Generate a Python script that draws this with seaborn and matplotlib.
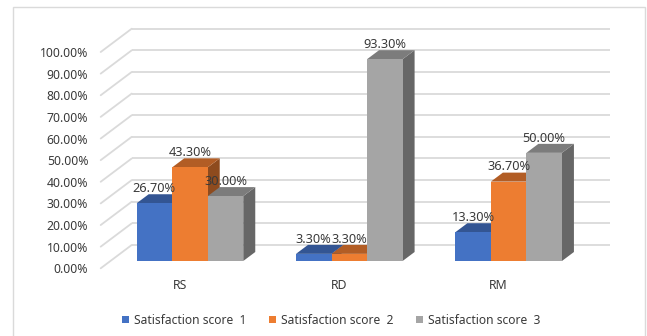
import matplotlib
matplotlib.use("Agg")
import matplotlib.pyplot as plt
import pandas as pd
import seaborn as sns
from matplotlib.patches import Polygon, Rectangle
from matplotlib.transforms import Affine2D, IdentityTransform

# Chart values (percent)
groups = ["RS", "RD", "RM"]
series_names = ["Satisfaction score  1", "Satisfaction score  2", "Satisfaction score  3"]
score_1 = [26.7, 3.3, 13.3]
score_2 = [43.3, 3.3, 36.7]
score_3 = [30.0, 93.3, 50.0]
axis_ticks = list(range(0, 101, 10))

# Face colours of each series: front, top, right side
front_colors = ["#4472C4", "#ED7D31", "#A5A5A5"]
top_colors = ["#335593", "#B25D25", "#7C7C7C"]
side_colors = ["#2A4778", "#8E4B1E", "#676767"]
text_color = "#3A3A3A"
grid_color = "#DADADA"
font_family = "Noto Sans"

W, H, DPI = 647, 336, 100
BAR_DEPTH = (12, 9)          # px, oblique offset of a bar's back face
WALL_FRONT = (-9.6, -7.3)    # px, front edge of the floor relative to the bar plane
WALL_BACK = (21.4, 16.0)     # px, back edge of the floor relative to the bar plane

sns.set_theme(style="white")
plt.rcParams["font.family"] = [font_family, "DejaVu Sans"]

fig = plt.figure(figsize=(W / DPI, H / DPI), dpi=DPI, facecolor="white")
ax = fig.add_axes([110.3 / W, (H - 261) / H, 478 / W, 216.3 / H])

table = pd.DataFrame({
    "group": groups * 3,
    "series": [n for n in series_names for _ in groups],
    "value": score_1 + score_2 + score_3,
})
sns.barplot(data=table, x="group", y="value", hue="series", palette=front_colors,
            saturation=1, width=0.669, gap=0, dodge=True, ax=ax, linewidth=0)

ax.set_xlim(-0.5, 2.5)
ax.set_ylim(0, 100)
ax.set_xlabel("")
ax.set_ylabel("")
sns.despine(ax=ax, left=True, bottom=True)
ax.patch.set_alpha(0)

# Outer frame of the chart area, open past the lower image edge
fig.add_artist(Rectangle((12.7, -6), 632.3, H - 7.3 + 6, transform=IdentityTransform(),
                         fill=False, edgecolor="#DADADA", linewidth=1.0))


def shifted(offset):
    return ax.transData + Affine2D().translate(*offset)


# Back wall and side wall gridlines
for v in axis_ticks:
    ax.plot([-0.5, 2.5], [v, v], transform=shifted(WALL_BACK), color=grid_color,
            lw=1.3, clip_on=False, zorder=1, solid_capstyle="butt")
    x0, y0 = ax.transData.transform((-0.5, v))
    ax.plot([x0 + WALL_FRONT[0], x0 + WALL_BACK[0]], [y0 + WALL_FRONT[1], y0 + WALL_BACK[1]],
            transform=IdentityTransform(), color=grid_color, lw=1.3, clip_on=False, zorder=1)

# Top and side faces, plus a value label over each bar
dx, dy = BAR_DEPTH
for i, container in enumerate(ax.containers[:3]):
    for bar in container:
        bar.set_zorder(3.5 + i)
        x_left = bar.get_x()
        x_right = x_left + bar.get_width()
        value = bar.get_height()
        (x0, y0), (x1, y1) = ax.transData.transform([(x_left, 0), (x_right, value)])
        ax.add_patch(Polygon([(x1, y0), (x1 + dx, y0 + dy), (x1 + dx, y1 + dy), (x1, y1)],
                             transform=IdentityTransform(), facecolor=side_colors[i],
                             edgecolor="none", clip_on=False, zorder=3 + i))
        ax.add_patch(Polygon([(x0, y1), (x1, y1), (x1 + dx, y1 + dy), (x0 + dx, y1 + dy)],
                             transform=IdentityTransform(), facecolor=top_colors[i],
                             edgecolor="none", clip_on=False, zorder=3 + i))
        ax.annotate(f"{value:.2f}%", xy=((x_left + x_right) / 2, value), xytext=(0, 14.7 * 72 / DPI),
                    textcoords="offset points", ha="center", va="center", fontsize=9.2,
                    color=text_color, zorder=20, annotation_clip=False)

# Axis labels sit on the front edge of the floor, not on the bar plane
ax.set_yticks(axis_ticks, [f"{t:.2f}%" for t in axis_ticks])
ax.tick_params(axis="y", length=0, pad=22 * 72 / DPI, labelsize=8.8, labelcolor=text_color)
ax.tick_params(axis="x", length=0, pad=18 * 72 / DPI, labelsize=8.8, labelcolor=text_color)
for label in ax.get_yticklabels():
    label.set_transform(label.get_transform() + Affine2D().translate(0, WALL_FRONT[1]))
for label in ax.get_xticklabels():
    label.set_transform(label.get_transform() + Affine2D().translate(-10, 0))

sns.move_legend(ax, loc="center", bbox_to_anchor=(331.5 / W, (H - 320.5) / H),
                bbox_transform=fig.transFigure,
                ncol=3, frameon=False, title=None, fontsize=8.7, labelcolor=text_color,
                handlelength=0.58, handleheight=0.58, handletextpad=0.39, columnspacing=1.89,
                borderpad=0)

fig.savefig("out.png", dpi=DPI, facecolor="white")
